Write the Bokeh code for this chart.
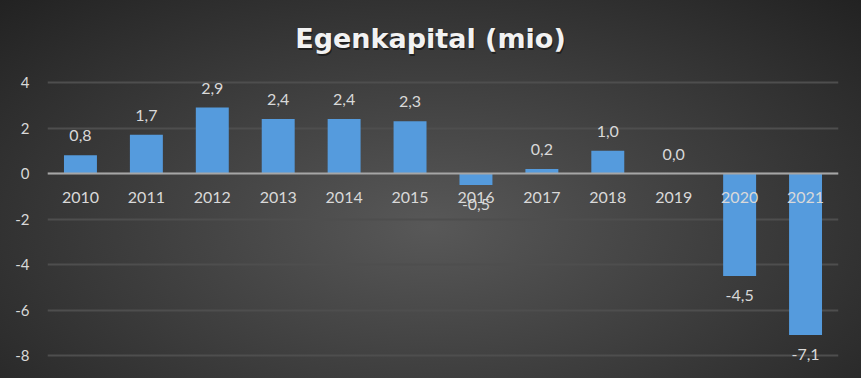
from bokeh.plotting import figure
from bokeh.models import ColumnDataSource, FactorRange, Range1d, FixedTicker, Span, PrintfTickFormatter, Label
from bokeh.core.properties import value
from bokeh.embed import file_html
from bokeh.resources import INLINE

years = ["2010", "2011", "2012", "2013", "2014", "2015", "2016", "2017", "2018", "2019", "2020", "2021"]
equity = [0.8, 1.7, 2.9, 2.4, 2.4, 2.3, -0.5, 0.2, 1.0, 0.0, -4.5, -7.1]
y_ticks = [-8, -6, -4, -2, 0, 2, 4]
title_text = "Egenkapital (mio)"

labels = [f"{v:.1f}".replace(".", ",") for v in equity]

FONT = "Lato"
TXT = "#d9d9d9"

# layout (pixels): gridded area spans 82..355 vertically; the plot frame covers the full height
H = 378
GRID_TOP, GRID_BOTTOM = 82, 355
ppu = (GRID_BOTTOM - GRID_TOP) / (y_ticks[-1] - y_ticks[0])
y_hi = y_ticks[-1] + GRID_TOP / ppu
y_lo = y_ticks[0] - (H - GRID_BOTTOM) / ppu

p = figure(
    width=861, height=H,
    x_range=FactorRange(factors=years, range_padding=0),
    y_range=Range1d(y_lo, y_hi),
    output_backend="svg", toolbar_location=None,
    min_border_left=47, min_border_right=23, min_border_top=0, min_border_bottom=0,
    background_fill_alpha=0, border_fill_alpha=0, outline_line_color=None,
)
p.styles = {"background": "radial-gradient(ellipse farthest-corner at 50% 60%, #585858 0%, #3d3d3d 50%, #222222 100%)"}

# y axis
p.yaxis.ticker = FixedTicker(ticks=y_ticks)
p.yaxis.formatter = PrintfTickFormatter(format="%d")
p.yaxis.axis_line_color = None
p.yaxis.major_tick_line_color = None
p.yaxis.major_tick_out = 0
p.yaxis.major_tick_in = 0
p.yaxis.minor_tick_line_color = None
p.yaxis.major_label_text_color = TXT
p.yaxis.major_label_text_font = FONT
p.yaxis.major_label_text_font_size = "15px"
p.yaxis.major_label_standoff = 18

p.xaxis.visible = False
p.xgrid.grid_line_color = None
p.ygrid.ticker = FixedTicker(ticks=y_ticks)
p.ygrid.grid_line_color = "#4e4e4e"
p.ygrid.grid_line_width = 2

src = ColumnDataSource(dict(x=years, top=equity, lab=labels))
p.vbar(x="x", top="top", bottom=0, width=0.5, source=src,
       fill_color="#559bdd", line_color=None)

p.add_layout(Span(location=0, dimension="width", line_color="#a6a6a6", line_width=2))

# category labels next to the zero line
p.text(x=years, y=[0] * len(years), text=years, text_align="center", text_baseline="top",
       y_offset=18, text_color=TXT, text_font=value(FONT), text_font_size="16px")

pos = ColumnDataSource(dict(x=[y for y, v in zip(years, equity) if v >= 0],
                            y=[v for v in equity if v >= 0],
                            t=[l for l, v in zip(labels, equity) if v >= 0]))
neg = ColumnDataSource(dict(x=[y for y, v in zip(years, equity) if v < 0],
                            y=[v for v in equity if v < 0],
                            t=[l for l, v in zip(labels, equity) if v < 0]))
p.text(x="x", y="y", text="t", source=pos, text_align="center", text_baseline="bottom",
       y_offset=-14, text_color=TXT, text_font=value(FONT), text_font_size="16px")
p.text(x="x", y="y", text="t", source=neg, text_align="center", text_baseline="top",
       y_offset=14, text_color=TXT, text_font=value(FONT), text_font_size="16px")

# chart title, centred at x=430px near the top
title_x = (430 - 47) / ((861 - 47 - 23) / len(years))
title_y = y_ticks[-1] + (GRID_TOP - 38) / ppu
for dx, dy, col, alpha in [(1, -2, "#000000", 0.45), (0, 0, "#f2f2f2", 1.0)]:
    p.add_layout(Label(x=title_x, y=title_y, x_offset=dx, y_offset=dy, text=title_text,
                       text_align="center", text_baseline="alphabetic",
                       text_font="DejaVu Sans", text_font_style="bold", text_font_size="27px",
                       text_color=col, text_alpha=alpha))

open("out.html", "w").write(file_html(p, INLINE))
